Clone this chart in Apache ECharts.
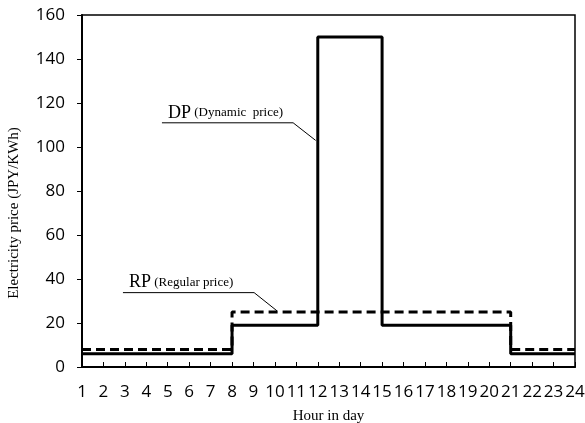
<!DOCTYPE html>
<html><head><meta charset="utf-8">
<script src="https://cdn.jsdelivr.net/npm/echarts@6/dist/echarts.min.js"></script>
<style>html,body{margin:0;padding:0;background:#fff;overflow:hidden}#c{width:585px;height:423px}</style>
</head><body><div id="c"></div>
<script>
const hours = [1,2,3,4,5,6,7,8,9,10,11,12,13,14,15,16,17,18,19,20,21,22,23,24];
const dpPrice = [6,6,6,6,6,6,6,19,19,19,19,150,150,150,19,19,19,19,19,19,6,6,6,6];
const rpPrice = [8,8,8,8,8,8,8,25,25,25,25,25,25,25,25,25,25,25,25,25,8,8,8,8];
const yMin = 0, yMax = 160, yStep = 20;
const xMin = 1, xMax = 24, xStep = 1;
// annotation leader lines in data space: [startX, endX, lineY, tipX, tipY]
const dpNote = [4.73, 10.85, 111, 11.9, 103];
const rpNote = [2.91, 9.03, 33.8, 10.1, 25.5];

const chart = echarts.init(document.getElementById('c'));
const serif = '"Liberation Serif", "Times New Roman", serif';
const sans = '"Open Sans", sans-serif';
chart.setOption({
  animation: false,
  backgroundColor: '#fff',
  grid: { left: 82, right: 10, top: 15, bottom: 56, containLabel: false, outerBoundsMode: 'none',
    show: true, borderColor: '#000', borderWidth: 1.5 },
  xAxis: {
    type: 'value', min: xMin, max: xMax, interval: xStep,
    name: 'Hour in day', nameLocation: 'middle', nameGap: 42,
    nameTextStyle: { fontFamily: serif, fontSize: 15, color: '#000' },
    axisLine: { lineStyle: { color: '#000', width: 2 } },
    axisTick: { inside: true, length: 5, lineStyle: { color: '#000', width: 1 } },
    axisLabel: { fontFamily: sans, fontSize: 17, color: '#000', margin: 17 },
    splitLine: { show: false }
  },
  yAxis: {
    type: 'value', min: yMin, max: yMax, interval: yStep,
    name: 'Electricity price (JPY/KWh)', nameLocation: 'middle', nameGap: 60,
    nameTextStyle: { fontFamily: serif, fontSize: 15, color: '#000', padding: [0, 44, 0, 0] },
    axisLine: { show: true, lineStyle: { color: '#000', width: 2 } },
    axisTick: { show: true, length: 5, lineStyle: { color: '#000', width: 1 } },
    axisLabel: { fontFamily: sans, fontSize: 17, color: '#000', margin: 17 },
    splitLine: { show: false }
  },
  series: [
    { name: 'DP', type: 'line', step: 'end', showSymbol: false,
      data: hours.map((h, i) => [h, dpPrice[i]]),
      lineStyle: { color: '#000', width: 3 } },
    { name: 'RP', type: 'line', step: 'end', showSymbol: false,
      data: hours.map((h, i) => [h, rpPrice[i]]),
      lineStyle: { color: '#000', width: 3, type: [9, 5] } }
  ]
});

function note(n, big, small) {
  const a = chart.convertToPixel({ gridIndex: 0 }, [n[0], n[2]]);
  const b = chart.convertToPixel({ gridIndex: 0 }, [n[1], n[2]]);
  const t = chart.convertToPixel({ gridIndex: 0 }, [n[3], n[4]]);
  return [
    { type: 'polyline', shape: { points: [a, b, t] }, style: { stroke: '#000', lineWidth: 1, fill: null } },
    { type: 'text', x: a[0] + 6, y: a[1] - 1,
      style: { text: '{a|' + big + '} {b|' + small + '}', verticalAlign: 'bottom', align: 'left',
        rich: { a: { fontFamily: serif, fontSize: 18, fill: '#000' }, b: { fontFamily: serif, fontSize: 13, fill: '#000' } } } }
  ];
}
chart.setOption({ graphic: [].concat(note(dpNote, 'DP', '(Dynamic  price)'), note(rpNote, 'RP', '(Regular price)')) });
</script></body></html>
